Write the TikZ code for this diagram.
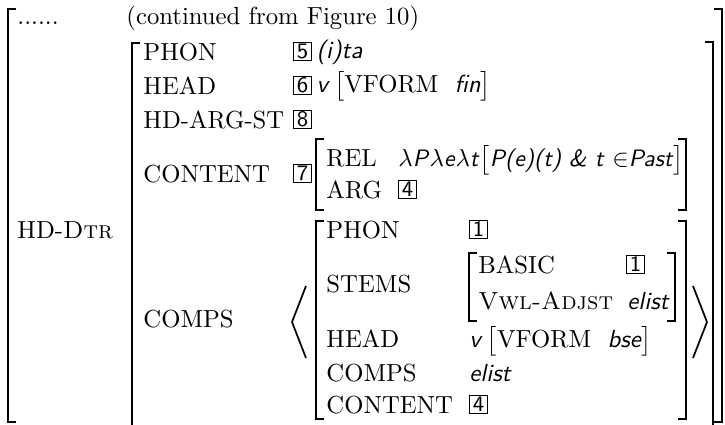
\documentclass[tikz,border=0pt]{standalone}
\begin{document}
\begin{tikzpicture}[x=0.405pt,y=-0.405pt]
\tikzset{
 lab/.style={anchor=base west, inner sep=0pt},
 val/.style={anchor=base west, inner sep=0pt, font=\sffamily\itshape},
 tagbox/.style={draw, line width=0.45pt, inner sep=0pt, minimum width=7.4pt, minimum height=7.4pt, font=\sffamily\small, anchor=south west},
 brk/.style={line width=0.7pt},
}
\useasboundingbox (0,0) rectangle (725,424);
\clip (0,0) rectangle (725,424);
% outer AVM
\draw[brk] (16,9) -- (8,9) -- (8,422) -- (16,422);
\draw[brk] (714,9) -- (722,9) -- (722,422) -- (714,422);
\node[lab] (dots) at (17,24) {......};
\node[lab] (cont) at (126,24) {(continued from Figure 10)};
\node[lab] (hddtr) at (17,238) {HD-\textsc{Dtr}};
% HD-DTR value
\draw[brk] (140,43) -- (132,43) -- (132,440);
\draw[brk] (705,42) -- (713,42) -- (713,440);
\node[lab] (phon) at (143,60) {PHON};
\node[tagbox] (t5) at (293,61) {5};
\node[val, anchor=base west] (phonv) at ([xshift=1.5pt,yshift=1pt]t5.south east) {(i)ta};
\node[lab] (head) at (143,94) {HEAD};
\node[tagbox] (t6) at (293,95) {6};
\node[lab, anchor=base west] (headv) at ([xshift=1.5pt,yshift=1pt]t6.south east) {\textsf{\textit{v}}\,$\bigl[$VFORM\ \ \textsf{\textit{fin}}$\bigr]$};
\node[lab] (hdarg) at (143,128) {HD-ARG-ST};
\node[tagbox] (t8) at (293,129) {8};
\node[lab] (content) at (143,182) {CONTENT};
\node[tagbox] (t7) at (293,183) {7};
% CONTENT value
\draw[brk] (324,139) -- (316,139) -- (316,210) -- (324,210);
\draw[brk] (678,139) -- (686,139) -- (686,210) -- (678,210);
\node[lab] (rel) at (326,166) {REL};
\node[lab, font=\fontsize{9.6}{11}\selectfont] (relv) at (398,166) {$\lambda$\textsf{\textit{P}}$\lambda$\textsf{\textit{e}}$\lambda$\textsf{\textit{t}}$\bigl[$\textsf{\textit{P(e)(t) \& t}} $\in$\textsf{\textit{Past}}$\bigr]$};
\node[lab] (arg) at (326,198) {ARG};
\node[tagbox] (t4a) at (398,199) {4};
% COMPS
\node[lab] (comps) at (143,327) {COMPS};
\draw[brk] (306,286) -- (292,322) -- (306,358);
\draw[brk] (693,286) -- (707,322) -- (693,358);
\draw[brk] (324,221) -- (316,221) -- (316,419) -- (324,419);
\draw[brk] (678,221) -- (686,221) -- (686,419) -- (678,419);
\node[lab] (phon2) at (326,238) {PHON};
\node[tagbox] (t1a) at (469,239) {1};
\node[lab] (stems) at (326,292) {STEMS};
\draw[brk] (477,253) -- (469,253) -- (469,321) -- (477,321);
\draw[brk] (667,253) -- (675,253) -- (675,321) -- (667,321);
\node[lab] (basic) at (478,273) {BASIC};
\node[tagbox] (t1b) at (626,274) {1};
\node[lab] (vwl) at (478,309) {\textsc{Vwl-Adjst}};
\node[val] (vwlv) at (627,309) {elist};
\node[lab] (head2) at (326,347) {HEAD};
\node[lab] (head2v) at (469,347) {\textsf{\textit{v}}\,$\bigl[$VFORM\ \ \textsf{\textit{bse}}$\bigr]$};
\node[lab] (comps2) at (326,381) {COMPS};
\node[val] (comps2v) at (469,381) {elist};
\node[lab] (cont2) at (326,413) {CONTENT};
\node[tagbox] (t4b) at (469,414) {4};
\end{tikzpicture}
\end{document}
